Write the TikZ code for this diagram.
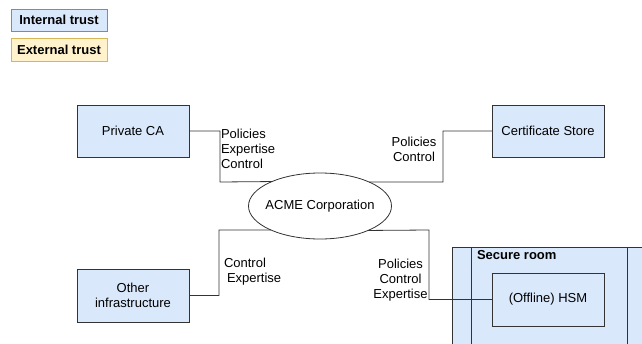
\documentclass[tikz,border=0pt]{standalone}
\usepackage{fontspec}
\setmainfont{Liberation Sans}
\definecolor{blfill}{HTML}{DAE8FC}
\definecolor{blline}{HTML}{6C8EBF}
\definecolor{ylfill}{HTML}{FFF2CC}
\definecolor{ylline}{HTML}{D6B656}
\definecolor{ink}{HTML}{333333}
\tikzset{
  base/.style={font=\fontsize{13}{15}\selectfont, text=black, inner sep=0pt, outer sep=0pt},
  entity/.style={base, draw=ink, fill=blfill, line width=0.8pt, minimum width=112, minimum height=52, align=center},
  legendint/.style={base, draw=blline, fill=blfill, line width=0.8pt, minimum width=96, minimum height=22, font=\fontsize{13}{15}\selectfont\bfseries},
  legendext/.style={base, draw=ylline, fill=ylfill, line width=0.8pt, minimum width=96, minimum height=23, font=\fontsize{13}{15}\selectfont\bfseries},
  hub/.style={base, ellipse, draw=ink, fill=white, line width=0.8pt, minimum width=143, minimum height=66},
  link/.style={draw=ink, line width=0.8pt},
  lbl/.style={base},
}
\usetikzlibrary{shapes.geometric}
\begin{document}
\begin{tikzpicture}[x=1pt, y=-1pt]
\useasboundingbox (0,0) rectangle (642,343);

% legend
\node[legendint] (lint) at (59,20) {Internal trust};
\node[legendext] (lext) at (59,49.5) {External trust};

% secure room container, cut off at the picture edge
\begin{scope}
  \clip (0,0) rectangle (642,343);
  \node[base, draw=ink, fill=blfill, line width=0.8pt, minimum width=210, minimum height=110, anchor=north west] (room) at (452,247) {};
  \draw[link] (room.north west) ++(19,0) -- ++(0,110);
  \draw[link] (room.north west) ++(175,0) -- ++(0,110);
\end{scope}
\node[base, font=\fontsize{13}{15}\selectfont\bfseries, anchor=west] (roomtitle) at (477,255.5) {Secure room};

% entities
\node[entity] (pca) at (133,131) {Private CA};
\node[entity] (cs) at (548,131) {Certificate Store};
\node[entity, minimum height=53] (oi) at (133,295.5) {Other\\infrastructure};
\node[entity, minimum height=53] (hsm) at (548,299.5) {(Offline) HSM};

% central organisation
\node[hub] (acme) at (320,206) {\makebox[0pt]{ACME Corporation}};

% relationships
\coordinate (k1) at (220,182);
\coordinate (k2) at (443,182);
\coordinate (k3) at (219,230);
\coordinate (k4) at (429,230);
\draw[link] (pca.east) -| (k1) -- (acme.153.8);
\draw[link] (cs.west) -| (k2) -- (acme.26.2);
\draw[link] (oi.east) -| (k3) -- (acme.206.2);
\draw[link] (hsm.west) -| (k4) -- (acme.333.8);

% relationship labels
\node[lbl, anchor=west, align=left] (l1) at (221,148.5) {Policies\\Expertise\\Control};
\node[lbl, align=center] (l2) at (414,149.5) {Policies\\Control};
\node[lbl, anchor=west, align=left] (l3) at (224,272) {Control\\\hspace{3pt}Expertise};
\node[lbl, align=center] (l4) at (400.5,280) {Policies\\Control\\Expertise};
\end{tikzpicture}
\end{document}
